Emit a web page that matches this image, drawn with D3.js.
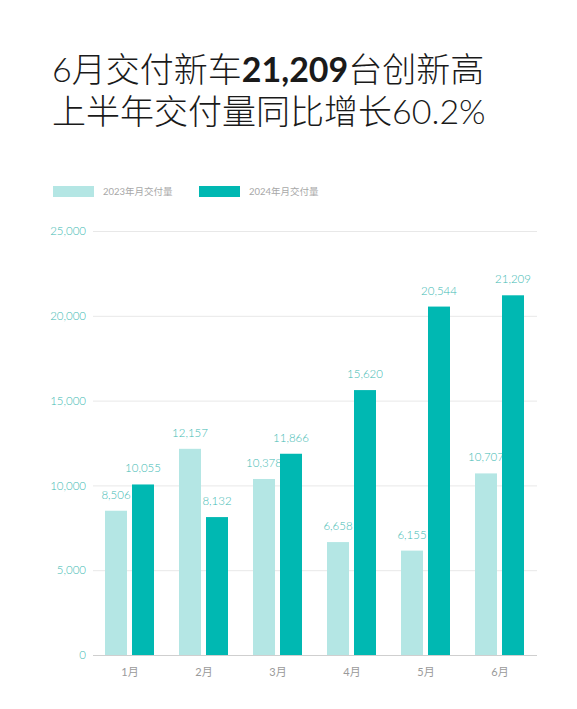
<!DOCTYPE html>
<html>
<head>
<meta charset="utf-8">
<script src="https://cdn.jsdelivr.net/npm/d3@7"></script>
<style>
  html, body { margin: 0; padding: 0; background: #fff; }
  svg { display: block; }
</style>
</head>
<body>
<svg id="chart"></svg>
<script>
// chart data
const months = ["1月", "2月", "3月", "4月", "5月", "6月"];
const seriesNames = ["2023年月交付量", "2024年月交付量"];
const sales2023 = [8506, 12157, 10378, 6658, 6155, 10707];
const sales2024 = [10055, 8132, 11866, 15620, 20544, 21209];
const yTicks = [0, 5000, 10000, 15000, 20000, 25000];

const w = 577;
const h = 709;
const colors = ["#b4e6e4", "#00b8b2"];
const font = "Lato, 'Noto Sans CJK SC', sans-serif";

const svg = d3.select("#chart")
  .attr("width", w)
  .attr("height", h)
  .style("font-family", font);

// title
const title = svg.append("g").attr("fill", "#1a1a1a").style("font-size", "34px");
const line1 = title.append("text").attr("x", 52).attr("y", 82);
line1.append("tspan").attr("font-weight", 300).text("6月交付新车");
line1.append("tspan").attr("font-weight", 700).text("21,209");
line1.append("tspan").attr("font-weight", 300).text("台创新高");
title.append("text")
  .attr("x", 52)
  .attr("y", 124)
  .attr("font-weight", 300)
  .text("上半年交付量同比增长60.2%");

// scales
const xScale = d3.scaleBand().domain(months).range([93, 537]);
const inner = d3.scaleBand().domain([0, 1]).range([12, 61]).paddingInner(0.185);
const yScale = d3.scaleLinear().domain([0, 25000]).range([655, 231]);

// legend
const legend = svg.append("g").attr("transform", "translate(53,186)");
seriesNames.forEach((name, i) => {
  const g = legend.append("g").attr("transform", `translate(${i * 146},0)`);
  g.append("rect").attr("width", 41).attr("height", 11).attr("fill", colors[i]);
  g.append("text")
    .attr("x", 50)
    .attr("y", 9)
    .attr("fill", "#a8a8a8")
    .style("font-size", "9.5px")
    .text(name);
});

// grid + y labels
const yAxis = d3.axisLeft(yScale)
  .tickValues(yTicks)
  .tickSize(-(537 - 93))
  .tickPadding(7)
  .tickFormat(d3.format(","));

svg.append("g")
  .attr("class", "y-axis")
  .attr("transform", "translate(93,0)")
  .call(yAxis)
  .call(g => g.select(".domain").remove())
  .call(g => g.selectAll(".tick line")
    .attr("stroke", d => d === 0 ? "#cfcfcf" : "#e8e8e8")
    .attr("stroke-width", 1))
  .call(g => g.selectAll(".tick text")
    .attr("fill", "#3dbab3")
    .attr("font-weight", 300)
    .style("font-size", "11.5px")
    .style("font-family", font));

// x labels
const xAxis = d3.axisBottom(xScale).tickSize(0).tickPadding(13);
svg.append("g")
  .attr("transform", "translate(0,655)")
  .call(xAxis)
  .call(g => g.select(".domain").remove())
  .call(g => g.selectAll(".tick text")
    .attr("fill", "#9a9a9a")
    .style("font-size", "11px")
    .style("font-family", font));

// bars
const series = [sales2023, sales2024];
const fmt = d3.format(",");
series.forEach((values, s) => {
  const g = svg.append("g").attr("class", "series-" + s);
  g.selectAll("rect")
    .data(values)
    .join("rect")
    .attr("x", (d, i) => xScale(months[i]) + inner(s))
    .attr("y", d => yScale(d))
    .attr("width", inner.bandwidth())
    .attr("height", d => yScale(0) - yScale(d))
    .attr("fill", colors[s]);
  g.selectAll("text")
    .data(values)
    .join("text")
    .attr("x", (d, i) => xScale(months[i]) + inner(s) + inner.bandwidth() / 2)
    .attr("y", d => yScale(d) - 12)
    .attr("text-anchor", "middle")
    .attr("fill", "#3dbab3")
    .attr("font-weight", 300)
    .style("font-size", "11.5px")
    .text(d => fmt(d));
});
</script>
</body>
</html>
